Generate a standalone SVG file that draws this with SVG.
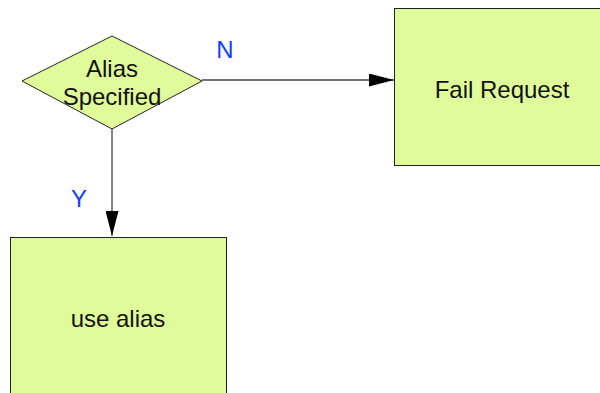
<svg xmlns="http://www.w3.org/2000/svg" width="600" height="393" viewBox="0 0 600 393">
<style>
.node{fill:#e0fc9a;stroke:#222;stroke-width:1}
.t{font-family:"Liberation Sans",Arial,sans-serif;font-size:24px;fill:#111;text-anchor:middle}
.lbl{font-family:"Liberation Sans",Arial,sans-serif;font-size:24px;fill:#1440ff;text-anchor:middle}
.edge{stroke:#444;stroke-width:1.3;fill:none}
</style>
<defs>
<marker id="arr" viewBox="0 0 25 13" refX="25" refY="6.5" markerWidth="25" markerHeight="13" markerUnits="userSpaceOnUse" orient="auto">
<path d="M0,0 L25,6.5 L0,13 Z" fill="#000"/>
</marker>
</defs>
<g id="connectors">
<line class="edge" x1="202" y1="80" x2="394" y2="80" marker-end="url(#arr)"/>
<line class="edge" x1="112" y1="129" x2="112" y2="236" marker-end="url(#arr)"/>
<text class="lbl" x="225" y="58">N</text>
<text class="lbl" x="79" y="207">Y</text>
</g>
<g id="alias-specified">
<polygon class="node" points="112,36 202,81 112,129 22,81"/>
<text class="t" x="112" y="77">Alias</text>
<text class="t" x="112" y="105">Specified</text>
</g>
<g id="fail-request">
<rect class="node" x="394.5" y="8.5" width="216" height="157"/>
<text class="t" x="502" y="98">Fail Request</text>
</g>
<g id="use-alias">
<rect class="node" x="10.5" y="237.5" width="216" height="170"/>
<text class="t" x="118" y="327">use alias</text>
</g>
</svg>
